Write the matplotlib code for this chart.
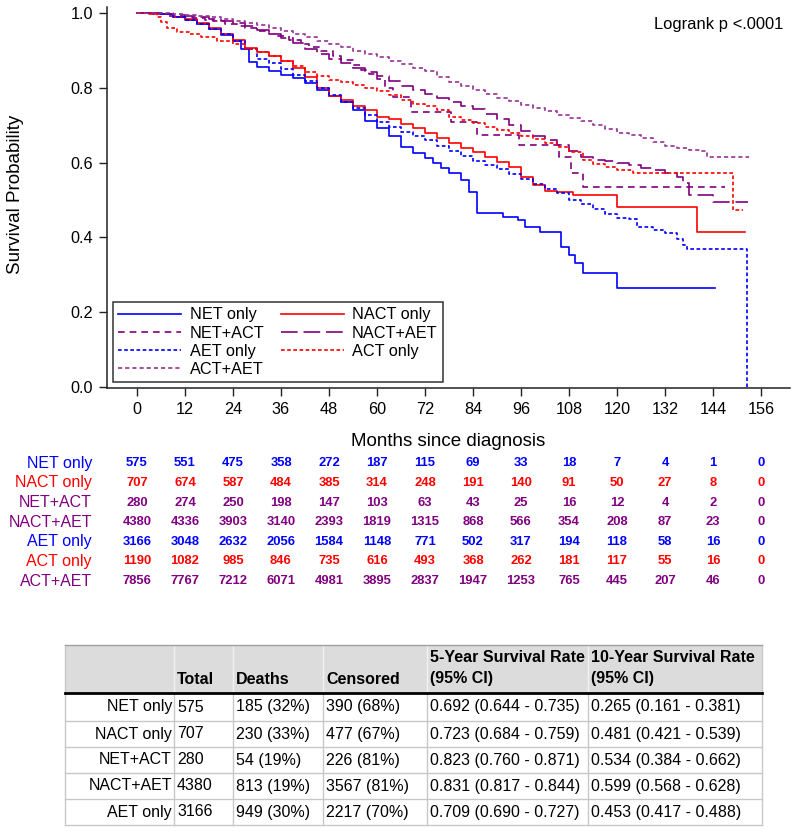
import matplotlib
matplotlib.use("Agg")
from matplotlib import pyplot as plt
from matplotlib.transforms import blended_transform_factory
from matplotlib.patches import Rectangle

plt.rcParams['font.family'] = ['Liberation Sans', 'DejaVu Sans']

BLUE = '#0000FF'
RED = '#FF0000'
PURPLE = '#800080'
LPURPLE = '#963296'

# Kaplan-Meier curves (months, survival)
net_t = [0, 3, 6, 9, 12, 15, 18, 21, 24, 26, 28, 30, 33, 36, 39, 42, 45, 48, 51, 54, 57, 60,
         63, 66, 69, 72, 74, 76, 78, 81, 83, 85, 91.5, 95.3, 97, 100.75, 106, 108, 109.5, 111.5, 120, 144.5]
net_s = [1, 0.999, 0.996, 0.99, 0.982, 0.97, 0.957, 0.942, 0.925, 0.905, 0.87, 0.855, 0.845, 0.835, 0.825,
         0.812, 0.795, 0.778, 0.762, 0.74, 0.71, 0.692, 0.67, 0.642, 0.625, 0.612, 0.6, 0.585, 0.572, 0.552,
         0.52, 0.465, 0.455, 0.447, 0.428, 0.415, 0.374, 0.353, 0.332, 0.305, 0.265, 0.265]

nact_t = [0, 3, 6, 9, 12, 15, 18, 21, 24, 27, 30, 33, 36, 39, 42, 45, 48, 51, 54, 57, 60, 63, 66, 69, 72,
          75, 78, 81, 84, 87, 90, 93, 96, 99, 102, 105, 109, 120, 140, 152]
nact_s = [1, 0.998, 0.996, 0.99, 0.983, 0.972, 0.96, 0.945, 0.928, 0.906, 0.895, 0.885, 0.872, 0.852, 0.83,
          0.8, 0.778, 0.767, 0.752, 0.74, 0.723, 0.716, 0.703, 0.692, 0.68, 0.666, 0.652, 0.64, 0.627, 0.615,
          0.602, 0.588, 0.56, 0.54, 0.525, 0.52, 0.513, 0.481, 0.414, 0.414]

netact_t = [0, 4, 8, 11, 14, 17, 19, 22, 25, 27, 30, 33, 35, 38, 41, 43, 46, 49, 51, 54, 56, 58, 60, 62,
            64, 68.5, 78.5, 85, 95.5, 105.5, 108.5, 111.5, 147]
netact_s = [1, 0.996, 0.993, 0.989, 0.986, 0.982, 0.978, 0.971, 0.964, 0.96, 0.953, 0.945, 0.938, 0.928,
            0.917, 0.909, 0.897, 0.885, 0.874, 0.86, 0.848, 0.836, 0.823, 0.8, 0.776, 0.736, 0.709, 0.674,
            0.647, 0.615, 0.572, 0.535, 0.535]

nactaet_t = [0, 3, 6, 9, 12, 15, 18, 21, 24, 27, 30, 33, 36, 39, 42, 45, 48, 51, 54, 57, 60, 63, 66, 69,
             72, 75, 78, 81, 84, 87, 90, 93, 96, 99, 102, 105, 108, 111, 114, 117, 120, 123, 126, 129, 132,
             135, 136.5, 138, 144, 152.75]
nactaet_s = [1, 1, 0.998, 0.995, 0.992, 0.988, 0.984, 0.979, 0.973, 0.965, 0.955, 0.944, 0.932, 0.919, 0.905,
             0.891, 0.878, 0.866, 0.854, 0.842, 0.831, 0.819, 0.806, 0.795, 0.784, 0.773, 0.762, 0.752, 0.742,
             0.73, 0.716, 0.7, 0.684, 0.671, 0.66, 0.647, 0.632, 0.615, 0.608, 0.603, 0.599, 0.593, 0.586,
             0.579, 0.572, 0.56, 0.545, 0.513, 0.495, 0.495]

aet_t = [0, 3, 6, 9, 12, 15, 18, 21, 24, 27, 30, 33, 36, 39, 42, 45, 48, 51, 54, 57, 60, 63, 66, 69, 72,
         75, 78, 81, 84, 87, 90, 93, 96, 99, 102, 105, 108, 111, 114, 117, 120, 123, 125, 129, 132, 135,
         136.5, 137.5, 152.5]
aet_s = [1, 0.999, 0.996, 0.99, 0.982, 0.971, 0.958, 0.943, 0.926, 0.905, 0.877, 0.865, 0.85, 0.835, 0.818,
         0.8, 0.78, 0.763, 0.745, 0.727, 0.709, 0.695, 0.681, 0.67, 0.66, 0.645, 0.63, 0.618, 0.605, 0.593,
         0.582, 0.569, 0.556, 0.543, 0.53, 0.518, 0.5, 0.488, 0.475, 0.463, 0.453, 0.45, 0.428, 0.42, 0.412,
         0.395, 0.38, 0.369, 0.0]

act_t = [0, 3, 5, 6, 7.5, 10, 13, 16, 20, 24, 27, 30, 33, 36, 39, 42, 45, 48, 51, 54, 57, 60, 63, 66, 69,
         72, 75, 78, 81, 84, 87, 90, 93, 96, 99, 102, 105, 108, 111.5, 114, 117, 120, 124, 149, 151.5]
act_s = [1, 1, 0.99, 0.975, 0.96, 0.95, 0.944, 0.937, 0.925, 0.916, 0.905, 0.895, 0.885, 0.872, 0.857,
         0.843, 0.832, 0.822, 0.815, 0.808, 0.8, 0.792, 0.78, 0.767, 0.757, 0.75, 0.74, 0.722, 0.715, 0.705,
         0.695, 0.688, 0.68, 0.672, 0.662, 0.652, 0.642, 0.627, 0.607, 0.597, 0.588, 0.58, 0.572, 0.473, 0.473]

actaet_t = [0, 3, 6, 9, 12, 15, 18, 21, 24, 27, 30, 33, 36, 39, 42, 45, 48, 51, 54, 57, 60, 63, 66, 69,
            72, 75, 78, 81, 84, 87, 90, 93, 96, 99, 102, 105, 108, 111, 114, 117, 120, 123, 126, 129, 132,
            135, 138, 141, 142.5, 153]
actaet_s = [1, 1, 0.999, 0.997, 0.994, 0.991, 0.988, 0.983, 0.979, 0.973, 0.967, 0.96, 0.952, 0.943, 0.935,
            0.926, 0.917, 0.908, 0.899, 0.89, 0.881, 0.872, 0.863, 0.853, 0.844, 0.83, 0.816, 0.805, 0.795,
            0.784, 0.773, 0.764, 0.755, 0.746, 0.737, 0.728, 0.719, 0.71, 0.7, 0.69, 0.68, 0.673, 0.665,
            0.655, 0.645, 0.638, 0.634, 0.63, 0.615, 0.615]

# number at risk
risk_times = [0, 12, 24, 36, 48, 60, 72, 84, 96, 108, 120, 132, 144, 156]
risk_net = [575, 551, 475, 358, 272, 187, 115, 69, 33, 18, 7, 4, 1, 0]
risk_nact = [707, 674, 587, 484, 385, 314, 248, 191, 140, 91, 50, 27, 8, 0]
risk_netact = [280, 274, 250, 198, 147, 103, 63, 43, 25, 16, 12, 4, 2, 0]
risk_nactaet = [4380, 4336, 3903, 3140, 2393, 1819, 1315, 868, 566, 354, 208, 87, 23, 0]
risk_aet = [3166, 3048, 2632, 2056, 1584, 1148, 771, 502, 317, 194, 118, 58, 16, 0]
risk_act = [1190, 1082, 985, 846, 735, 616, 493, 368, 262, 181, 117, 55, 16, 0]
risk_actaet = [7856, 7767, 7212, 6071, 4981, 3895, 2837, 1947, 1253, 765, 445, 207, 46, 0]

# summary table
tab_header = ["", "Total", "Deaths", "Censored", "5-Year Survival Rate\n(95% CI)", "10-Year Survival Rate\n(95% CI)"]
tab_groups = ["NET only", "NACT only", "NET+ACT", "NACT+AET", "AET only"]
tab_total = [575, 707, 280, 4380, 3166]
tab_deaths = ["185 (32%)", "230 (33%)", "54 (19%)", "813 (19%)", "949 (30%)"]
tab_cens = ["390 (68%)", "477 (67%)", "226 (81%)", "3567 (81%)", "2217 (70%)"]
tab_5y = ["0.692 (0.644 - 0.735)", "0.723 (0.684 - 0.759)", "0.823 (0.760 - 0.871)",
          "0.831 (0.817 - 0.844)", "0.709 (0.690 - 0.727)"]
tab_10y = ["0.265 (0.161 - 0.381)", "0.481 (0.421 - 0.539)", "0.534 (0.384 - 0.662)",
           "0.599 (0.568 - 0.628)", "0.453 (0.417 - 0.488)"]

series = [
    ("NET only", net_t, net_s, BLUE, None, risk_net, BLUE),
    ("NACT only", nact_t, nact_s, RED, None, risk_nact, RED),
    ("NET+ACT", netact_t, netact_s, PURPLE, (4, 3), risk_netact, PURPLE),
    ("NACT+AET", nactaet_t, nactaet_s, PURPLE, (10, 3.5), risk_nactaet, PURPLE),
    ("AET only", aet_t, aet_s, BLUE, (2.2, 1.5), risk_aet, BLUE),
    ("ACT only", act_t, act_s, RED, (2.2, 1.5), risk_act, RED),
    ("ACT+AET", actaet_t, actaet_s, LPURPLE, (2.5, 1.8), risk_actaet, PURPLE),
]

fig = plt.figure(figsize=(8, 8.33), dpi=100)
ax = fig.add_axes([107/800, 1-388/833, 683/800, 381/833])

handles = {}
for name, t, s, col, dash, _, _ in series:
    ln, = ax.step(t, s, where='post', color=col, lw=1.2, label=name)
    if dash:
        ln.set_dashes(dash)
    handles[name] = ln

ax.set_xlim(-7.5, 163.25)
ax.set_ylim(-0.003, 1.016)
ax.set_xticks(risk_times)
ax.set_yticks([0, 0.2, 0.4, 0.6, 0.8, 1.0])
ax.set_yticklabels(['0.0', '0.2', '0.4', '0.6', '0.8', '1.0'])
for sp in ['top', 'right']:
    ax.spines[sp].set_visible(False)
for sp in ['left', 'bottom']:
    ax.spines[sp].set_linewidth(1.1)
    ax.spines[sp].set_color('#222222')
ax.tick_params(direction='out', length=6, width=1, labelsize=11.7, color='#222222', pad=4)
ax.set_ylabel('Survival Probability', fontsize=13.5)
ax.yaxis.set_label_coords(-0.122, 0.509)
ax.set_xlabel('Months since diagnosis', fontsize=13.5)
ax.xaxis.set_label_coords(0.5, -0.118)

ax.text(0.99, 0.955, 'Logrank p <.0001', transform=ax.transAxes, ha='right', va='center', fontsize=11.9)

order = ["NET only", "NET+ACT", "AET only", "ACT+AET", "NACT only", "NACT+AET", "ACT only"]
leg = ax.legend([handles[k] for k in order], order, ncol=2, loc='lower left',
                bbox_to_anchor=(0.009, 0.016), borderaxespad=0, fontsize=11.7, frameon=True,
                fancybox=False, edgecolor='black', handlelength=3.9, handletextpad=0.5,
                columnspacing=1.0, labelspacing=0.2, borderpad=0.3)
leg.get_frame().set_linewidth(1.1)

# overlay in pixel coordinates for the tables
ov = fig.add_axes([0, 0, 1, 1])
ov.set_xlim(0, 800)
ov.set_ylim(833, 0)
ov.axis('off')
ov.patch.set_visible(False)

trans = blended_transform_factory(ax.transData, ov.transData)
for i, (name, _, _, col, _, risk, ncol) in enumerate(series):
    y = 463.3 + 19.62 * i
    lab_col = PURPLE if col == LPURPLE else col
    ov.text(92, y, name, ha='right', va='center', fontsize=11.5, color=lab_col)
    for tm, n in zip(risk_times, risk):
        ov.text(tm, y, str(n), transform=trans, ha='center', va='center', fontsize=9.4,
                fontweight='bold', color=ncol)

col_x = [65, 174, 233, 323, 427, 588, 762]
head_top, head_bot = 645, 693
row_edges = [693, 721, 747, 773, 799, 825]
ov.add_patch(Rectangle((col_x[0], head_top), col_x[-1] - col_x[0], head_bot - head_top,
                       fc='#DCDCDC', ec='none'))
for x in col_x[1:-1]:
    ov.plot([x, x], [head_top, head_bot], color='#F2F2F2', lw=1)
    ov.plot([x, x], [head_bot, row_edges[-1]], color='#C8C8C8', lw=1)
for x in [col_x[0], col_x[-1]]:
    ov.plot([x, x], [head_top, row_edges[-1]], color='#C8C8C8', lw=1)
for y in row_edges[1:]:
    ov.plot([col_x[0], col_x[-1]], [y, y], color='#C8C8C8', lw=1)
ov.plot([col_x[0], col_x[-1]], [head_top, head_top], color='#A0A0A0', lw=1)
ov.plot([col_x[0], col_x[-1]], [head_bot, head_bot], color='black', lw=2)

for j, h in enumerate(tab_header):
    if not h:
        continue
    lines = h.split('\n')
    if len(lines) == 2:
        ov.text(col_x[j] + 3, 658, lines[0], ha='left', va='center', fontsize=11.5, fontweight='bold')
        ov.text(col_x[j] + 3, 679, lines[1], ha='left', va='center', fontsize=11.5, fontweight='bold')
    else:
        ov.text(col_x[j] + 3, 679, h, ha='left', va='center', fontsize=11.5, fontweight='bold')

for i in range(len(tab_groups)):
    yc = (row_edges[i] + row_edges[i + 1]) / 2
    ov.text(col_x[1] - 2, yc, tab_groups[i], ha='right', va='center', fontsize=11.5)
    vals = [str(tab_total[i]), tab_deaths[i], tab_cens[i], tab_5y[i], tab_10y[i]]
    for j, v in enumerate(vals):
        ov.text(col_x[j + 1] + 3, yc, v, ha='left', va='center', fontsize=11.5)

fig.savefig('out.png', dpi=100)
